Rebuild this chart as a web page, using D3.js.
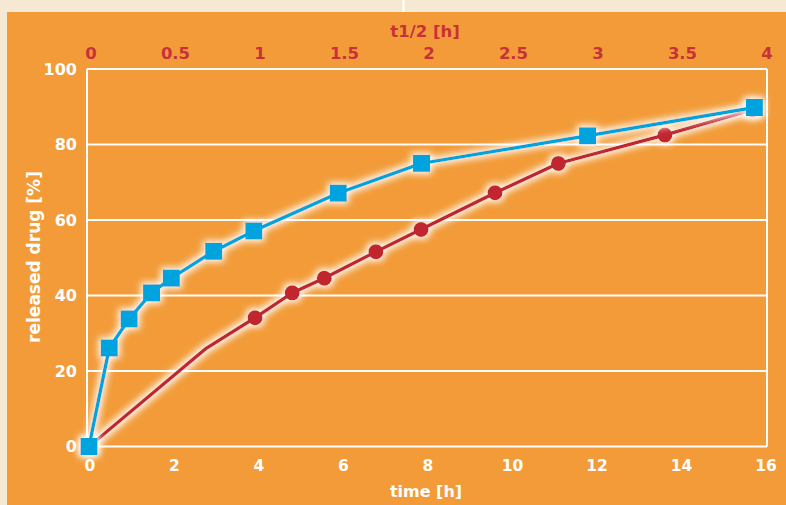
<!DOCTYPE html>
<html>
<head>
<meta charset="utf-8">
<script src="https://cdn.jsdelivr.net/npm/d3@7"></script>
<style>
  html, body { margin: 0; padding: 0; background: #f5e9d4; }
  svg { display: block; }
  .tick-bottom, .tick-left, .axis-title { font-family: "DejaVu Sans", "Liberation Sans", Arial, sans-serif; font-weight: bold; fill: #ffffff; }
  .tick-top, .top-title { font-family: "DejaVu Sans", "Liberation Sans", Arial, sans-serif; font-weight: bold; fill: #c8313a; }
</style>
</head>
<body>
<svg id="chart" width="786" height="505"></svg>
<script>
// Release profiles: released drug [%] over time [h]
const blueTime   = [0, 0.48, 0.95, 1.48, 1.95, 2.95, 3.9, 5.9, 7.87, 11.8, 15.75];
const blueValues = [0, 26.1, 33.8, 40.7, 44.6, 51.7, 57.1, 67.1, 75.0, 82.3, 89.8];

const redTime    = [0, 2.75, 3.93, 4.81, 5.57, 6.79, 7.86, 9.61, 11.11, 13.63, 15.7];
const redValues  = [0, 25.8, 34.1, 40.7, 44.6, 51.6, 57.5, 67.2, 75.0, 82.5, 89.2];
const redMarked  = [true, false, true, true, true, true, true, true, true, true, true];

const timeTicks  = [0, 2, 4, 6, 8, 10, 12, 14, 16];
const halfTicks  = [0, 0.5, 1, 1.5, 2, 2.5, 3, 3.5, 4];
const yTicks     = [0, 20, 40, 60, 80, 100];

const W = 786, H = 505;
const svg = d3.select("#chart");

// page background and orange panel
svg.append("rect").attr("width", W).attr("height", H).attr("fill", "#f5e9d4");
svg.append("rect").attr("x", 7).attr("y", 12).attr("width", W - 7).attr("height", H - 12).attr("fill", "#f29b38");
svg.append("line").attr("x1", 403.5).attr("x2", 403.5).attr("y1", 0).attr("y2", 12)
  .attr("stroke", "#ffffff").attr("stroke-width", 2);

const x = d3.scaleLinear().domain([0, 16]).range([89, 765]);
const xTop = d3.scaleLinear().domain([0, 4]).range([89, 765]);
const y = d3.scaleLinear().domain([0, 100]).range([446.5, 69]);

const plotLeft = 87, plotRight = 767;

// soft white halo behind lines and markers
const defs = svg.append("defs");
const glow = defs.append("filter").attr("id", "glow")
  .attr("x", "-20%").attr("y", "-20%").attr("width", "140%").attr("height", "140%");
glow.append("feMorphology").attr("in", "SourceAlpha").attr("operator", "dilate").attr("radius", 1.5).attr("result", "thick");
glow.append("feGaussianBlur").attr("in", "thick").attr("stdDeviation", 3.5).attr("result", "blur");
glow.append("feFlood").attr("flood-color", "#ffffff").attr("flood-opacity", 1);
glow.append("feComposite").attr("in2", "blur").attr("operator", "in").attr("result", "halo");
const merge = glow.append("feMerge");
merge.append("feMergeNode").attr("in", "halo");
merge.append("feMergeNode").attr("in", "SourceGraphic");

// grid lines and frame
const grid = svg.append("g");
grid.selectAll("line.h").data(yTicks).join("line")
  .attr("x1", plotLeft).attr("x2", plotRight)
  .attr("y1", d => y(d)).attr("y2", d => y(d))
  .attr("stroke", "#ffffff").attr("stroke-width", 2);
grid.append("line").attr("x1", plotLeft).attr("x2", plotLeft).attr("y1", y(100)).attr("y2", y(0))
  .attr("stroke", "#ffffff").attr("stroke-width", 2);
grid.append("line").attr("x1", plotRight).attr("x2", plotRight).attr("y1", y(100)).attr("y2", y(0))
  .attr("stroke", "#ffffff").attr("stroke-width", 2);

// left tick labels
svg.selectAll("text.tick-left").data(yTicks).join("text")
  .attr("class", "tick-left")
  .attr("x", 77).attr("y", d => y(d)).attr("dy", "0.36em")
  .attr("text-anchor", "end").attr("font-size", 16)
  .text(d => d);

// bottom tick labels
svg.selectAll("text.tick-bottom").data(timeTicks).join("text")
  .attr("class", "tick-bottom")
  .attr("x", d => x(d) + 1).attr("y", 471)
  .attr("text-anchor", "middle").attr("font-size", 15.5)
  .text(d => d);

// top tick labels (half-life)
svg.selectAll("text.tick-top").data(halfTicks).join("text")
  .attr("class", "tick-top")
  .attr("x", d => xTop(d) + 2).attr("y", 59)
  .attr("text-anchor", "middle").attr("font-size", 16.5)
  .text(d => d);

// axis titles
svg.append("text").attr("class", "axis-title")
  .attr("x", 426).attr("y", 497).attr("text-anchor", "middle").attr("font-size", 16)
  .text("time [h]");
svg.append("text").attr("class", "top-title")
  .attr("x", 425).attr("y", 37).attr("text-anchor", "middle").attr("font-size", 16.5)
  .text("t1/2 [h]");
svg.append("text").attr("class", "axis-title")
  .attr("transform", "translate(40,257) rotate(-90)")
  .attr("text-anchor", "middle").attr("font-size", 17)
  .text("released drug [%]");

// series
const redPts = redTime.map((t, i) => ({ t, v: redValues[i], m: redMarked[i] }));
const bluePts = blueTime.map((t, i) => ({ t, v: blueValues[i] }));
const line = d3.line().x(d => x(d.t)).y(d => y(d.v));

const redG = svg.append("g").attr("filter", "url(#glow)");
redG.append("path").datum(redPts).attr("d", line)
  .attr("fill", "none").attr("stroke", "#c1282e").attr("stroke-width", 3.5).attr("stroke-linejoin", "round");
redG.selectAll("circle").data(redPts.filter(d => d.m)).join("circle")
  .attr("cx", d => x(d.t)).attr("cy", d => y(d.v)).attr("r", 7.5)
  .attr("fill", "#c1282e");

const blueG = svg.append("g").attr("filter", "url(#glow)");
blueG.append("path").datum(bluePts).attr("d", line)
  .attr("fill", "none").attr("stroke", "#00a3dd").attr("stroke-width", 3.5).attr("stroke-linejoin", "round");
blueG.selectAll("rect").data(bluePts).join("rect")
  .attr("x", d => x(d.t) - 8.5).attr("y", d => y(d.v) - 8.5)
  .attr("width", 17).attr("height", 17)
  .attr("fill", "#00a3dd");
</script>
</body>
</html>
